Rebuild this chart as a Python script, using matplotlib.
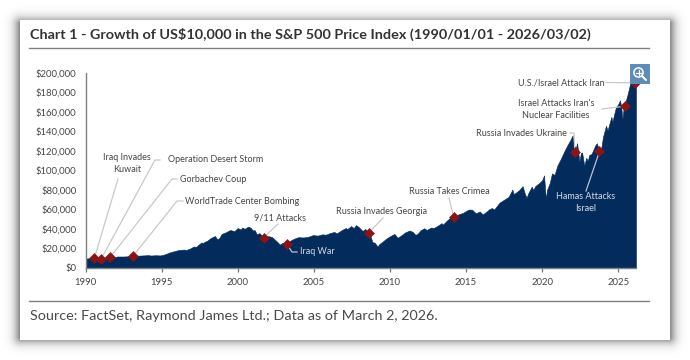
import numpy as np
import matplotlib
matplotlib.use("Agg")
import matplotlib.pyplot as plt
from matplotlib.patches import Rectangle, Circle

FONT = "Lato"
plt.rcParams["font.family"] = [FONT, "DejaVu Sans"]

TITLE = "Chart 1 - Growth of US$10,000 in the S&P 500 Price Index (1990/01/01 - 2026/03/02)"
SOURCE = "Source: FactSet, Raymond James Ltd.; Data as of March 2, 2026."

x_ticks = [1990, 1995, 2000, 2005, 2010, 2015, 2020, 2025]
y_ticks = [0, 20000, 40000, 60000, 80000, 100000, 120000, 140000, 160000, 180000, 200000]
y_tick_labels = ["$0", "$20,000", "$40,000", "$60,000", "$80,000", "$100,000",
                 "$120,000", "$140,000", "$160,000", "$180,000", "$200,000"]

dates = [
    1990.00, 1990.10, 1990.30, 1990.50, 1990.62, 1990.80, 1991.00, 1991.15, 1991.40, 1991.60, 1991.90,
    1992.10, 1992.50, 1992.80, 1993.10, 1993.50, 1993.90, 1994.10, 1994.30, 1994.60, 1994.90,
    1995.00, 1995.25, 1995.50, 1995.75, 1996.00, 1996.25, 1996.50, 1996.60, 1996.90, 1997.10, 1997.28,
    1997.50, 1997.62, 1997.72, 1997.82, 1998.00, 1998.20, 1998.50, 1998.66, 1998.78, 1998.95, 1999.20,
    1999.50, 1999.78, 2000.00, 2000.20, 2000.30, 2000.45, 2000.70, 2000.85, 2001.00, 2001.12, 2001.25,
    2001.42, 2001.60, 2001.72, 2002.00, 2002.25, 2002.55, 2002.77, 2002.95, 2003.20, 2003.45, 2003.70,
    2004.00, 2004.25, 2004.60, 2004.95, 2005.25, 2005.55, 2005.80, 2006.10, 2006.35, 2006.50, 2006.85,
    2007.10, 2007.20, 2007.45, 2007.62, 2007.78, 2007.95, 2008.20, 2008.38, 2008.60, 2008.72, 2008.85,
    2009.00, 2009.19, 2009.30, 2009.50, 2009.75, 2010.00, 2010.30, 2010.50, 2010.75, 2011.00, 2011.30,
    2011.50, 2011.68, 2011.85, 2012.00, 2012.25, 2012.42, 2012.70, 2012.88, 2013.10, 2013.40, 2013.48,
    2013.70, 2013.95, 2014.08, 2014.20, 2014.50, 2014.80, 2015.00, 2015.20, 2015.40, 2015.65, 2015.90,
    2016.10, 2016.40, 2016.50, 2016.70, 2016.85, 2017.20, 2017.50, 2017.80, 2018.05, 2018.12, 2018.25,
    2018.50, 2018.72, 2018.85, 2018.98, 2019.10, 2019.32, 2019.42, 2019.55, 2019.80, 2020.00, 2020.13,
    2020.20, 2020.25, 2020.32, 2020.50, 2020.65, 2020.82, 2021.00, 2021.20, 2021.50, 2021.70, 2021.85,
    2022.00, 2022.10, 2022.20, 2022.30, 2022.45, 2022.55, 2022.63, 2022.77, 2022.90, 2023.00, 2023.10,
    2023.25, 2023.50, 2023.60, 2023.82, 2024.00, 2024.20, 2024.30, 2024.55, 2024.62, 2024.85, 2025.00,
    2025.12, 2025.20, 2025.28, 2025.35, 2025.47, 2025.60, 2025.80, 2025.95, 2026.05, 2026.17,
]
values = [
    10000, 9800, 10100, 10400, 10200, 9300, 9600, 10500, 10800, 11000, 11300,
    11800, 11800, 12000, 12400, 12700, 13000, 13300, 12800, 13100, 12900,
    13100, 14200, 15800, 16900, 18000, 18600, 18900, 18400, 20200, 22000, 21800,
    24800, 26200, 25500, 26800, 28000, 30500, 32800, 29500, 30500, 35000, 36500,
    39000, 37800, 41000, 39500, 41500, 40200, 42500, 41200, 38500, 38800, 34500,
    35800, 33000, 31000, 32700, 31800, 27500, 24000, 25800, 24800, 28000, 30000,
    31700, 31300, 31800, 33800, 33200, 34500, 34200, 36000, 37000, 35500, 39000,
    41000, 40000, 43000, 41000, 44000, 42000, 38000, 40000, 36200, 33000, 26500,
    26000, 22000, 24500, 26800, 30000, 32500, 35000, 31000, 33500, 36500, 38500,
    37000, 34000, 35500, 38500, 40800, 39000, 41500, 41000, 43000, 46000, 44500,
    48000, 51500, 50000, 52200, 55000, 56500, 58500, 60000, 59800, 56000, 58000,
    55000, 58500, 60000, 61500, 60000, 67000, 70000, 73000, 80500, 76000, 77000,
    80000, 84000, 77000, 72000, 77000, 83500, 80000, 84000, 87000, 90000, 95000,
    80000, 70000, 80000, 87000, 97000, 95500, 105000, 111000, 121000, 127000, 131000,
    136000, 126000, 122000, 128000, 109000, 118000, 118500, 105000, 113000, 110000, 116000,
    117000, 126000, 128000, 116000, 134500, 146000, 141000, 155000, 150000, 165000, 168000,
    172000, 165000, 153000, 163000, 170000, 177000, 190000, 191000, 193000, 195000,
]

event_dates = [1990.58, 1991.04, 1991.62, 1993.15, 2001.70, 2003.22, 2008.60, 2014.20,
               2022.15, 2023.77, 2025.47, 2026.10]
event_values = [10000, 9600, 11000, 12700, 31000, 24800, 36000, 52000,
                119000, 119500, 166000, 190000]

NAVY = "#032c5d"
RED = "#8e1414"
GREY = "#c9c9c9"
TXT = "#454545"

W, H = 690, 360
fig = plt.figure(figsize=(W / 100, H / 100), dpi=100, facecolor="white")

# card shadow
bg = fig.add_axes([0, 0, 1, 1], zorder=0)
bg.set_axis_off()
bg.set_xlim(0, W); bg.set_ylim(H, 0)
gx, gy = np.meshgrid(np.arange(W) + .5, np.arange(H) + .5)
dx = np.maximum(np.maximum(21 - gx, gx - 669), 0)
dy = np.maximum(np.maximum(24 - gy, gy - 337), 0)
d = np.hypot(dx, dy)
shadow = 1 - 0.50 * np.exp(-(d / 6.5) ** 1.4)
bg.imshow(shadow, cmap="gray", vmin=0, vmax=1, extent=(0, W, H, 0), aspect="auto", interpolation="bilinear")
bg.add_patch(Rectangle((20, 20), 650, 320, fc="white", ec="none", zorder=2))

# chart axes
L, R, T, B = 85.5, 636.0, 73.0, 268.0
ax = fig.add_axes([L / W, 1 - B / H, (R - L) / W, (B - T) / H], zorder=1)
ax.patch.set_alpha(0)
ax.fill_between(dates, values, 0, color=NAVY, lw=0.4, zorder=2)
ax.set_xlim(1990, 2026.17)
ax.set_ylim(0, 200000)
ax.set_xticks(x_ticks)
ax.set_yticks(y_ticks)
ax.set_yticklabels(y_tick_labels)
ax.tick_params(axis="x", length=3, width=0.9, color="#777777", labelsize=6.9, labelcolor=TXT, pad=4)
ax.tick_params(axis="y", length=0, labelsize=6.8, labelcolor=TXT, pad=6.5)
for s in ("top", "right"):
    ax.spines[s].set_visible(False)
for s in ("left", "bottom"):
    ax.spines[s].set_color("#808080")
    ax.spines[s].set_linewidth(1.0)
ax.scatter(event_dates, event_values, marker="D", s=26, color=RED, ec=RED, lw=0.4, zorder=5, clip_on=False)

# overlay in pixel coordinates
ov = fig.add_axes([0, 0, 1, 1], zorder=3)
ov.set_axis_off()
ov.set_xlim(0, W); ov.set_ylim(H, 0)
ov.patch.set_alpha(0)

ov.plot([29, 649], [48, 48], color="#808080", lw=1.0)
ov.plot([29, 649], [301, 301], color="#808080", lw=1.0)
ov.text(29.5, 34, TITLE, fontsize=10.4, fontweight="bold", color="#333333", va="center", ha="left")
ov.text(29.5, 316.5, SOURCE, fontsize=10.4, color="#4a4a4a", va="center", ha="left")

# leader lines: event index, elbow points in pixels, colour
leaders = [
    (0, [(118, 179)], GREY),
    (1, [(155, 160), (160, 160)], GREY),
    (2, [(172, 179), (177, 179)], GREY),
    (3, [(177, 201), (183, 201)], GREY),
    (4, [(278, 224)], GREY),
    (5, [(292, 252), (297, 252)], "#b9c3d2"),
    (6, [(383, 218)], GREY),
    (7, [(449, 198)], GREY),
    (8, [(574, 133), (570, 133)], GREY),
    (9, [(586, 191)], "#b9c3d2"),
    (10, [(602, 109)], GREY),
    (11, [(606, 82.5)], GREY),
]
to_data = ax.transData.inverted()
for i, pts, c in leaders:
    elbows = to_data.transform([(px, H - py) for px, py in pts])
    xs = [event_dates[i]] + list(elbows[:, 0])
    ys = [event_values[i]] + list(elbows[:, 1])
    ax.plot(xs, ys, color=c, lw=0.9, zorder=3, clip_on=False)
ax.set_xlim(1990, 2026.17)
ax.set_ylim(0, 200000)

labels = [
    (127, 157, "Iraq Invades", "center", TXT),
    (127, 169, "Kuwait", "center", TXT),
    (168.5, 160, "Operation Desert Storm", "left", TXT),
    (180, 179, "Gorbachev Coup", "left", TXT),
    (185, 201.5, "WorldTrade Center Bombing", "left", TXT),
    (280.5, 218, "9/11 Attacks", "center", TXT),
    (299.5, 252, "Iraq War", "left", "#d5dbe6"),
    (382, 211.5, "Russia Invades Georgia", "center", TXT),
    (449, 191, "Russia Takes Crimea", "center", TXT),
    (476, 134, "Russia Invades Ukraine", "left", TXT),
    (586, 196.5, "Hamas Attacks", "center", "#d5dbe6"),
    (586, 208.5, "Israel", "center", "#d5dbe6"),
    (556, 103.5, "Israel Attacks Iran's", "center", TXT),
    (556, 115, "Nuclear Facilities", "center", TXT),
    (517.5, 83, "U.S./Israel Attack Iran", "left", TXT),
]
for x, y, s, ha, c in labels:
    ov.text(x, y, s, fontsize=6.5, color=c, ha=ha, va="center", zorder=4)

# zoom icon
ov.add_patch(Rectangle((630, 64), 19.5, 20, fc="#5b8db8", ec="none", zorder=6))
ov.add_patch(Circle((638.5, 72.5), 4.6, fc="none", ec="white", lw=1.1, zorder=7))
ov.plot([642, 646], [76, 80], color="white", lw=1.5, zorder=7, solid_capstyle="round")
ov.plot([636, 641], [72.5, 72.5], color="white", lw=0.9, zorder=7)
ov.plot([638.5, 638.5], [70, 75], color="white", lw=0.9, zorder=7)

fig.savefig("out.png", dpi=100)
